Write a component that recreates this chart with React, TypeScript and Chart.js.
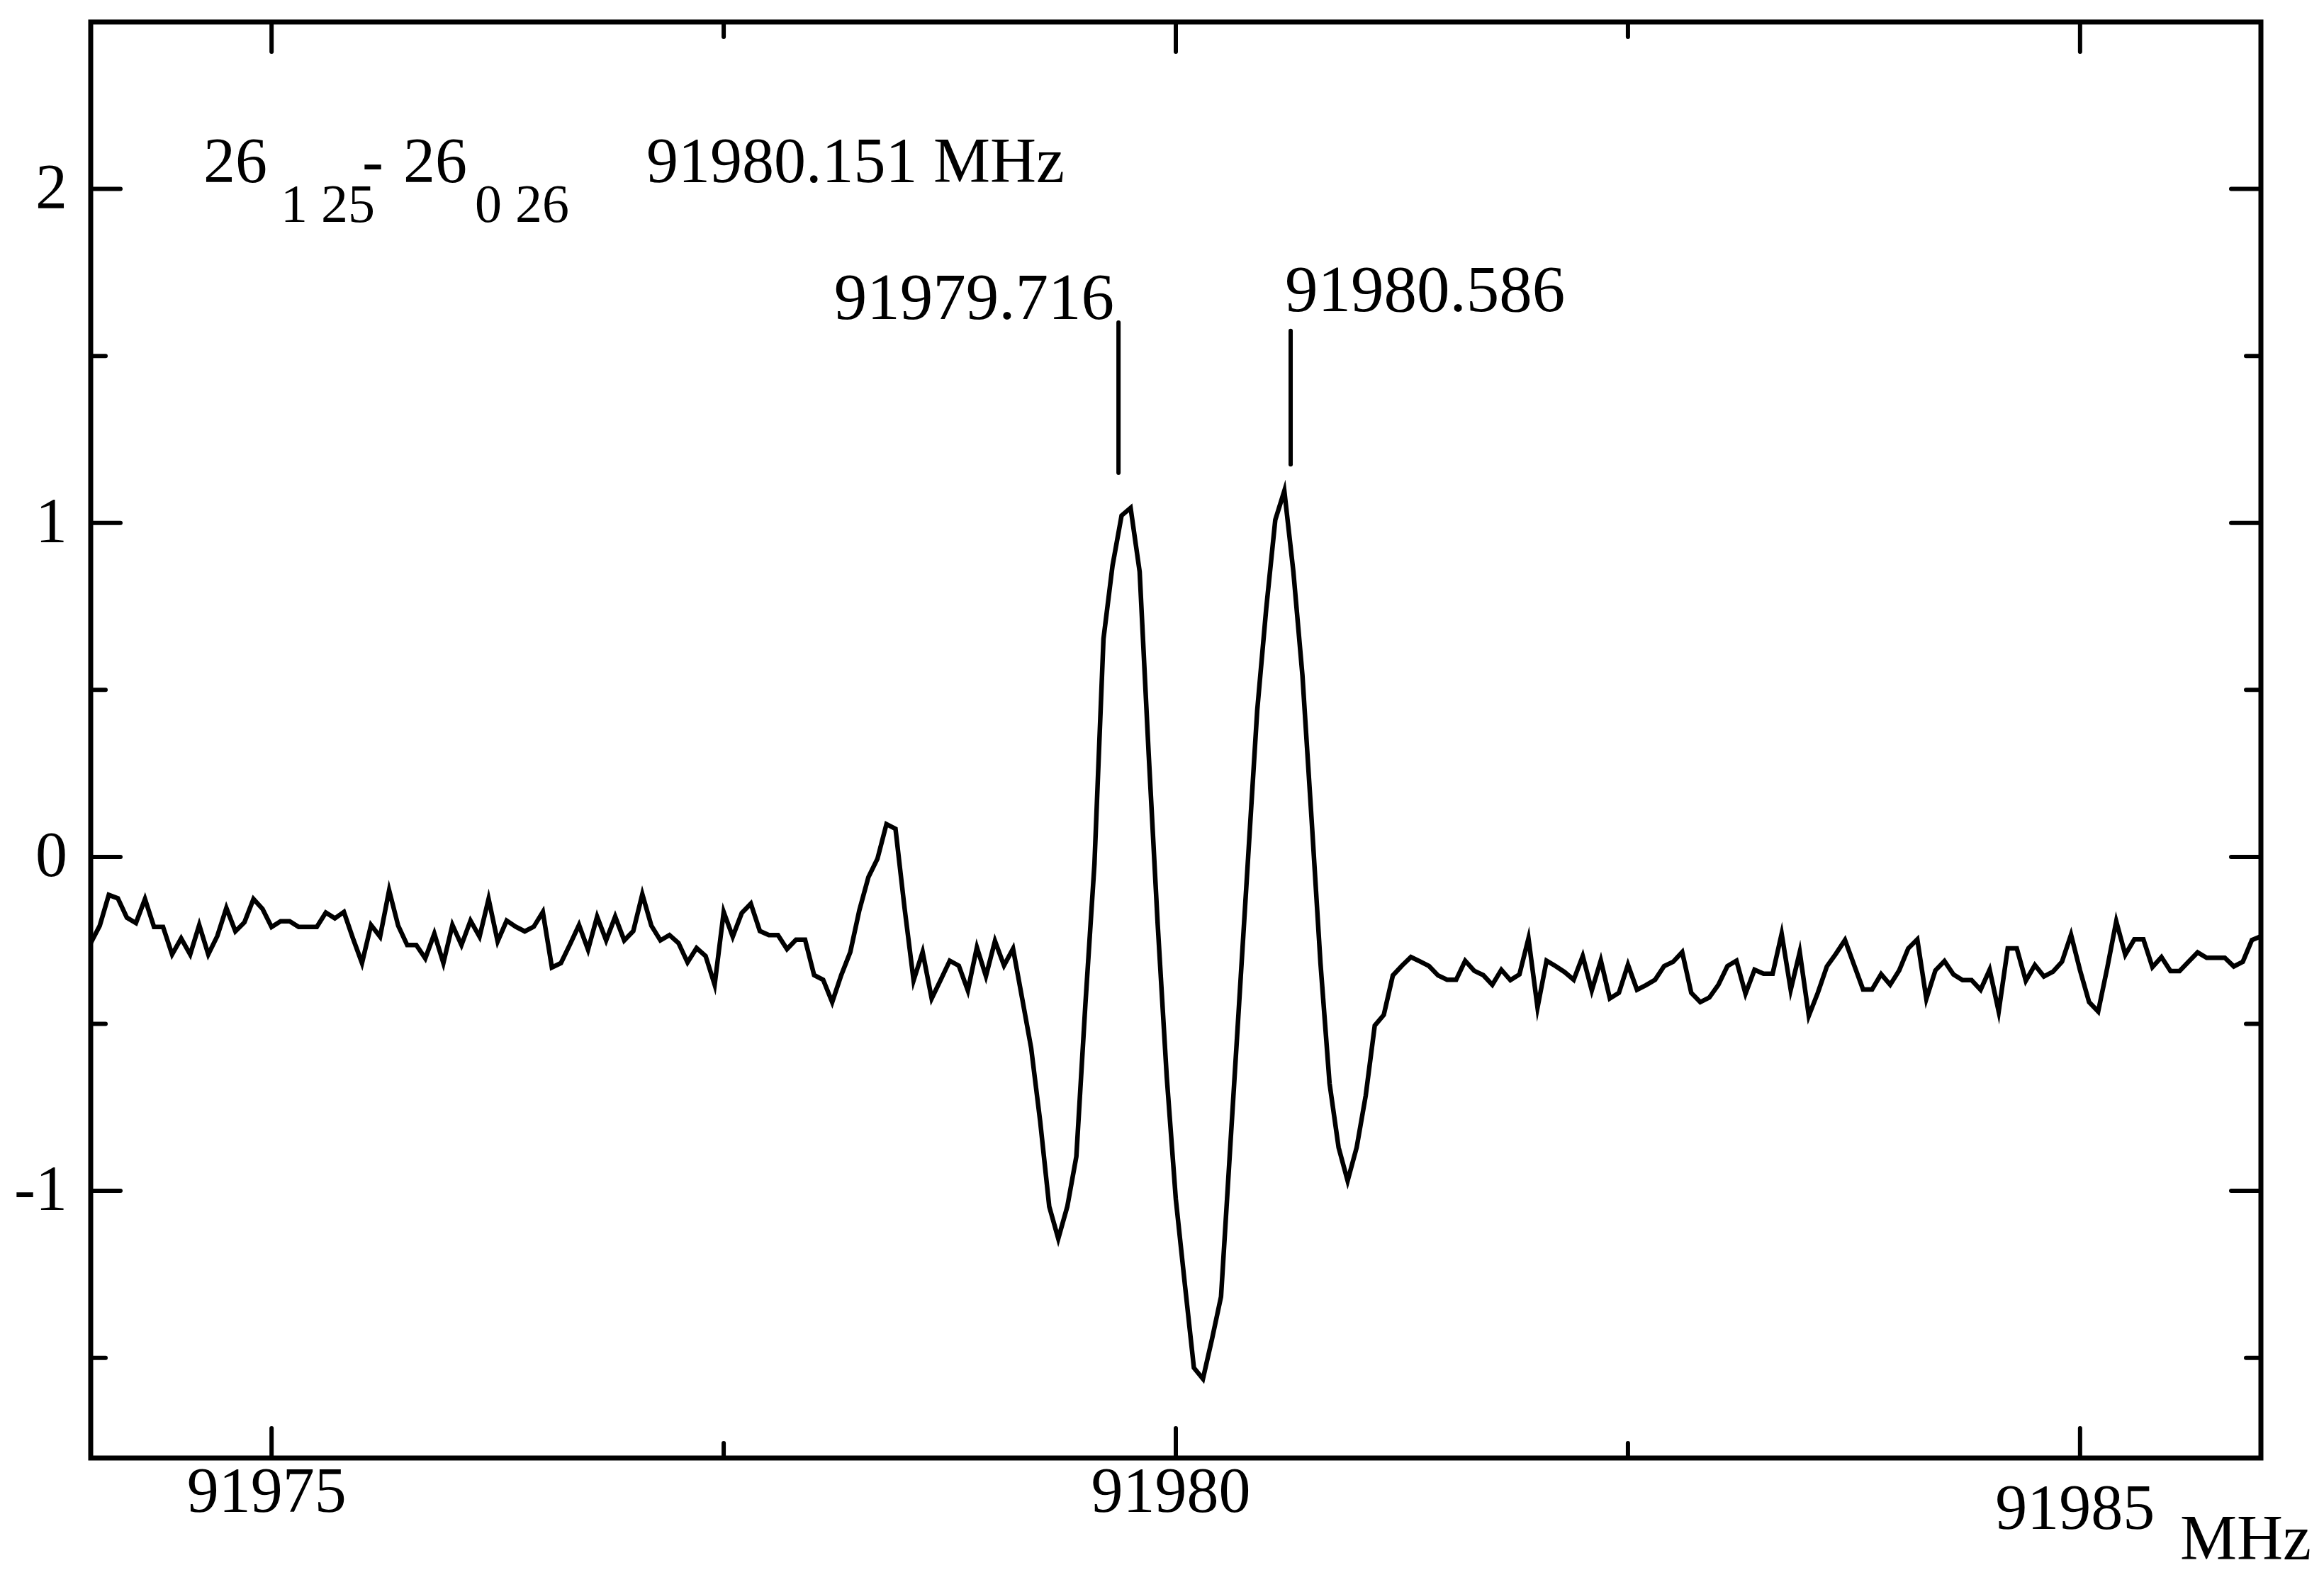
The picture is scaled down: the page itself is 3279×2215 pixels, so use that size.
import React, { useEffect, useRef } from "react";
import { Chart, registerables } from "chart.js";

Chart.register(...registerables);

const W = 3279;
const H = 2215;

// Spectrum sampling grid (MHz)
const FREQ_START = 91974.0;
const FREQ_STEP = 0.05;

// Intensity, one value per sample (241 samples)
const intensity = [
  -0.258, -0.206, -0.114, -0.124, -0.182, -0.198, -0.126, -0.210, -0.210, -0.292,
  -0.244, -0.292, -0.204, -0.292, -0.237, -0.153, -0.223, -0.196, -0.126, -0.156,
  -0.210, -0.193, -0.193, -0.210, -0.210, -0.210, -0.167, -0.184, -0.165, -0.244,
  -0.318, -0.204, -0.239, -0.100, -0.206, -0.264, -0.264, -0.304, -0.230, -0.318,
  -0.204, -0.264, -0.191, -0.239, -0.126, -0.253, -0.191, -0.209, -0.223, -0.209,
  -0.165, -0.331, -0.318, -0.262, -0.204, -0.278, -0.179, -0.250, -0.179, -0.250,
  -0.222, -0.112, -0.206, -0.250, -0.234, -0.258, -0.316, -0.273, -0.297, -0.383,
  -0.165, -0.239, -0.168, -0.140, -0.222, -0.234, -0.234, -0.276, -0.248, -0.248,
  -0.354, -0.368, -0.435, -0.354, -0.285, -0.160, -0.061, -0.006, 0.098, 0.084,
  -0.153, -0.370, -0.285, -0.424, -0.368, -0.311, -0.326, -0.400, -0.271, -0.357,
  -0.252, -0.325, -0.275, -0.423, -0.572, -0.792, -1.047, -1.143, -1.047, -0.897,
  -0.441, -0.022, 0.653, 0.872, 1.022, 1.045, 0.854, 0.307, -0.204, -0.660,
  -1.025, -1.280, -1.530, -1.563, -1.444, -1.317, -0.877, -0.439, 0.000, 0.438,
  0.744, 1.009, 1.096, 0.854, 0.544, 0.119, -0.319, -0.678, -0.870, -0.970,
  -0.870, -0.715, -0.505, -0.473, -0.355, -0.326, -0.300, -0.313, -0.327, -0.355,
  -0.368, -0.368, -0.311, -0.341, -0.354, -0.383, -0.338, -0.369, -0.352, -0.244,
  -0.451, -0.311, -0.327, -0.345, -0.368, -0.297, -0.400, -0.310, -0.424, -0.407,
  -0.323, -0.398, -0.384, -0.368, -0.327, -0.314, -0.285, -0.407, -0.435, -0.421,
  -0.383, -0.327, -0.311, -0.410, -0.338, -0.350, -0.350, -0.230, -0.398, -0.285,
  -0.476, -0.407, -0.328, -0.290, -0.249, -0.323, -0.397, -0.397, -0.351, -0.383,
  -0.340, -0.274, -0.247, -0.425, -0.340, -0.312, -0.352, -0.369, -0.369, -0.398,
  -0.338, -0.463, -0.274, -0.274, -0.371, -0.324, -0.358, -0.344, -0.314, -0.233,
  -0.340, -0.435, -0.463, -0.333, -0.193, -0.293, -0.247, -0.247, -0.330, -0.300,
  -0.342, -0.342, -0.314, -0.286, -0.302, -0.302, -0.302, -0.328, -0.314, -0.249,
  -0.238,
];

const X_MIN = 91974;
const X_MAX = 91986;
const Y_MIN = -1.8;
const Y_MAX = 2.5;

const xTickValues = [91975, 91980, 91985];
const xTickLabels = ["91975", "91980", "91985"];
const xMinorTicks = [91977.5, 91982.5];
const yTickValues = [-1, 0, 1, 2];
const yTickLabels = ["-1", "0", "1", "2"];
const yMinorTicks = [-1.5, -0.5, 0.5, 1.5];

const markerFreqs = [91979.683, 91980.635];
const markerLabels = ["91979.716", "91980.586"];
const markerTop = [1.6, 1.575];
const markerBottom = [1.15, 1.175];

const transitionMain = ["26", "26"];
const transitionSub = ["1 25", "0 26"];
const centerFreqLabel = "91980.151 MHz";
const unitLabel = "MHz";

const SERIF = '"Liberation Serif", "Times New Roman", Times, serif';

const framePlugin = {
  id: "framePlugin",
  beforeDraw(chart: any) {
    const ctx = chart.ctx;
    ctx.save();
    ctx.fillStyle = "#ffffff";
    ctx.fillRect(0, 0, chart.width, chart.height);
    ctx.restore();
  },
  afterDraw(chart: any) {
    const ctx = chart.ctx;
    const xs = chart.scales.x;
    const ys = chart.scales.y;
    const { left, right, top, bottom } = chart.chartArea;
    ctx.save();
    ctx.strokeStyle = "#000";
    ctx.fillStyle = "#000";

    // frame
    ctx.lineWidth = 7;
    ctx.lineJoin = "miter";
    ctx.strokeRect(left, top, right - left, bottom - top);

    // ticks
    ctx.lineWidth = 6;
    ctx.lineCap = "round";
    const MAJ = 42;
    const MIN = 21;
    const seg = (x1: number, y1: number, x2: number, y2: number) => {
      ctx.beginPath();
      ctx.moveTo(x1, y1);
      ctx.lineTo(x2, y2);
      ctx.stroke();
    };
    xTickValues.forEach((v) => {
      const px = xs.getPixelForValue(v);
      seg(px, bottom, px, bottom - MAJ);
      seg(px, top, px, top + MAJ);
    });
    xMinorTicks.forEach((v) => {
      const px = xs.getPixelForValue(v);
      seg(px, bottom, px, bottom - MIN);
      seg(px, top, px, top + MIN);
    });
    yTickValues.forEach((v) => {
      const py = ys.getPixelForValue(v);
      seg(left, py, left + MAJ, py);
      seg(right, py, right - MAJ, py);
    });
    yMinorTicks.forEach((v) => {
      const py = ys.getPixelForValue(v);
      seg(left, py, left + MIN, py);
      seg(right, py, right - MIN, py);
    });

    // markers
    ctx.lineWidth = 6;
    ctx.lineCap = "round";
    markerFreqs.forEach((f, i) => {
      const px = xs.getPixelForValue(f);
      seg(px, ys.getPixelForValue(markerTop[i]), px, ys.getPixelForValue(markerBottom[i]));
    });

    // tick labels
    ctx.font = `90px ${SERIF}`;
    ctx.textBaseline = "alphabetic";
    ctx.textAlign = "center";
    const xLabelDy = [0, 0, 24];
    xTickValues.forEach((v, i) => {
      const px = xs.getPixelForValue(v);
      ctx.fillText(xTickLabels[i], px - 7, bottom + 76 + xLabelDy[i]);
    });
    ctx.textAlign = "right";
    yTickValues.forEach((v, i) => {
      const py = ys.getPixelForValue(v);
      ctx.fillText(yTickLabels[i], left - 33, py + 27);
    });
    ctx.textAlign = "left";
    ctx.fillText(unitLabel, 3076, 2200);

    // marker labels
    ctx.font = `93px ${SERIF}`;
    ctx.textAlign = "right";
    ctx.fillText(markerLabels[0], xs.getPixelForValue(markerFreqs[0]) - 6, 450);
    ctx.textAlign = "left";
    ctx.fillText(markerLabels[1], xs.getPixelForValue(markerFreqs[1]) - 8, 439);

    // transition label
    ctx.textAlign = "left";
    ctx.font = `90px ${SERIF}`;
    ctx.fillText(transitionMain[0], 287, 257);
    ctx.fillText("-", 511, 257);
    ctx.fillText(transitionMain[1], 569, 257);
    ctx.fillText(centerFreqLabel, 912, 257);
    ctx.font = `76px ${SERIF}`;
    ctx.fillText(transitionSub[0], 396, 313);
    ctx.fillText(transitionSub[1], 670, 313);

    ctx.restore();
  },
};

export default function App() {
  const canvasRef = useRef<HTMLCanvasElement | null>(null);

  useEffect(() => {
    const canvas = canvasRef.current;
    if (!canvas) return;
    const points = intensity.map((v, i) => ({ x: FREQ_START + i * FREQ_STEP, y: v }));
    const chart = new Chart(canvas, {
      type: "line",
      data: {
        datasets: [
          {
            data: points,
            borderColor: "#000000",
            borderWidth: 6.5,
            pointRadius: 0,
            tension: 0,
            fill: false,
            borderJoinStyle: "miter",
          },
        ],
      },
      options: {
        responsive: false,
        maintainAspectRatio: false,
        devicePixelRatio: 1,
        animation: false,
        events: [],
        layout: { padding: { left: 128, right: W - 3190, top: 31, bottom: H - 2057 } },
        plugins: { legend: { display: false }, tooltip: { enabled: false }, title: { display: false } },
        scales: {
          x: { type: "linear", min: X_MIN, max: X_MAX, display: false },
          y: { type: "linear", min: Y_MIN, max: Y_MAX, display: false },
        },
      },
      plugins: [framePlugin],
    } as any);
    return () => chart.destroy();
  }, []);

  return (
    <div style={{ position: "fixed", left: 0, top: 0, width: W, height: H, background: "#fff" }}>
      <canvas ref={canvasRef} width={W} height={H} style={{ width: W, height: H, display: "block" }} />
    </div>
  );
}
